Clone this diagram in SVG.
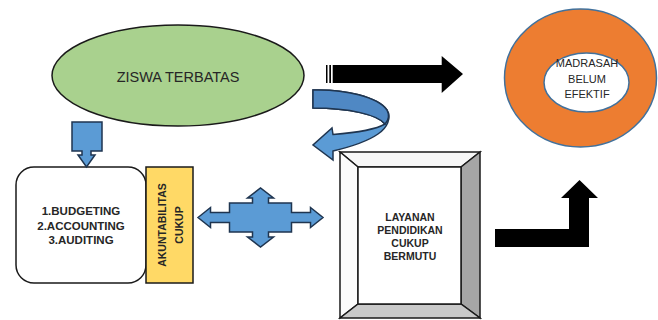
<svg xmlns="http://www.w3.org/2000/svg" width="658" height="320" viewBox="0 0 658 320">
<defs>
<style>
.t{font-family:"Liberation Sans",Arial,sans-serif;fill:#262626;text-anchor:middle}
.b{font-weight:bold}
.blue{fill:#5B9BD5;stroke:#1f3550;stroke-width:1.5;stroke-linejoin:miter}
.blk{fill:#000}
.edge{stroke:#1a1a1a;stroke-width:1.5}
</style>
</defs>
<rect width="658" height="320" fill="#fff"/>
<g id="ziswa">
<ellipse cx="178" cy="75.5" rx="126" ry="50.5" fill="#A9D18E" class="edge"/>
<text class="t" x="178" y="82" font-size="14.5">ZISWA TERBATAS</text>
</g>
<g id="budgeting">
<rect x="16" y="167" width="130" height="116" rx="18" fill="#fff" class="edge"/>
<text class="t b" font-size="11.5"><tspan x="81" y="215">1.BUDGETING</tspan><tspan x="81" y="230">2.ACCOUNTING</tspan><tspan x="81" y="244">3.AUDITING</tspan></text>
</g>
<g id="akuntabilitas">
<rect x="146" y="167" width="47" height="116" fill="#FFD966" class="edge"/>
<text class="t b" font-size="10.5" transform="translate(166,225) rotate(-90)">AKUNTABILITAS</text>
<text class="t b" font-size="10.5" transform="translate(183,225) rotate(-90)">CUKUP</text>
</g>
<g id="layanan">
<polygon points="340,152 480,152 461,167 358,167" fill="#f7f7f7" class="edge"/>
<polygon points="340,152 358,167 358,304 340,318" fill="#fbfbfb" class="edge"/>
<polygon points="480,152 480,318 461,304 461,167" fill="#a6a6a6" class="edge"/>
<polygon points="340,318 480,318 461,304 358,304" fill="#c9c9c9" class="edge"/>
<rect x="358" y="167" width="103" height="137" fill="#fff" class="edge"/>
<text class="t b" font-size="10.5"><tspan x="410" y="221">LAYANAN</tspan><tspan x="410" y="234">PENDIDIKAN</tspan><tspan x="410" y="247">CUKUP</tspan><tspan x="410" y="260">BERMUTU</tspan></text>
</g>
<g id="madrasah">
<ellipse cx="580.5" cy="78" rx="76" ry="69" fill="#ED7D31" stroke="#41719C" stroke-width="1.5"/>
<ellipse cx="586.5" cy="82.5" rx="42.5" ry="29.5" fill="#fff" stroke="#41719C" stroke-width="1.5"/>
<text class="t" font-size="11"><tspan x="587" y="67">MADRASAH</tspan><tspan x="587" y="83">BELUM</tspan><tspan x="587" y="98">EFEKTIF</tspan></text>
</g>
<g id="connectors">
<path class="blue" d="M72,122 L102,122 L102,151 L91,151 L91,155 L95,155 L86.5,167 L78,155 L82,155 L82,151 L72,151 Z"/>
<path class="blue" d="M198,217.5 L210.5,207.5 L210.5,212.5 L229.5,212.5 L229.5,203 L252.5,203 L252.5,198 L247.5,198 L260.5,188 L273.5,198 L268.5,198 L268.5,203 L291.5,203 L291.5,212.5 L310.5,212.5 L310.5,207.5 L323,217.5 L310.5,227.5 L310.5,222.5 L291.5,222.5 L291.5,232 L268.5,232 L268.5,237 L273.5,237 L260.5,247 L247.5,237 L252.5,237 L252.5,232 L229.5,232 L229.5,222.5 L210.5,222.5 L210.5,227.5 Z"/>
<path class="blue" d="M313,90 C345,89 378,97 387,110 C392,118 387,128 378,134 C368,141 350,147 333,151 L333,160 L313,145 L332,128 L333,134.5 C352,133 375,130 385,124 C378,115 350,108 313,108 Z"/>
<path d="M313,90 C345,89 378,97 387,110 C390,116 388,121 385,124 C378,115 350,108 313,108 Z" fill="#4f88c4" stroke="#1f3550" stroke-width="1.5"/>
<rect class="blk" x="326" y="65" width="1.5" height="18"/>
<rect class="blk" x="329.3" y="65" width="1.7" height="18"/>
<path class="blk" d="M332.7,65 L441.7,65 L441.7,56 L463,74 L441.7,93 L441.7,83 L332.7,83 Z"/>
<path class="blk" d="M495,229 L569,229 L569,198 L561,198 L579.5,180 L598,198 L589,198 L589,247 L495,247 Z"/>
</g>
</svg>
